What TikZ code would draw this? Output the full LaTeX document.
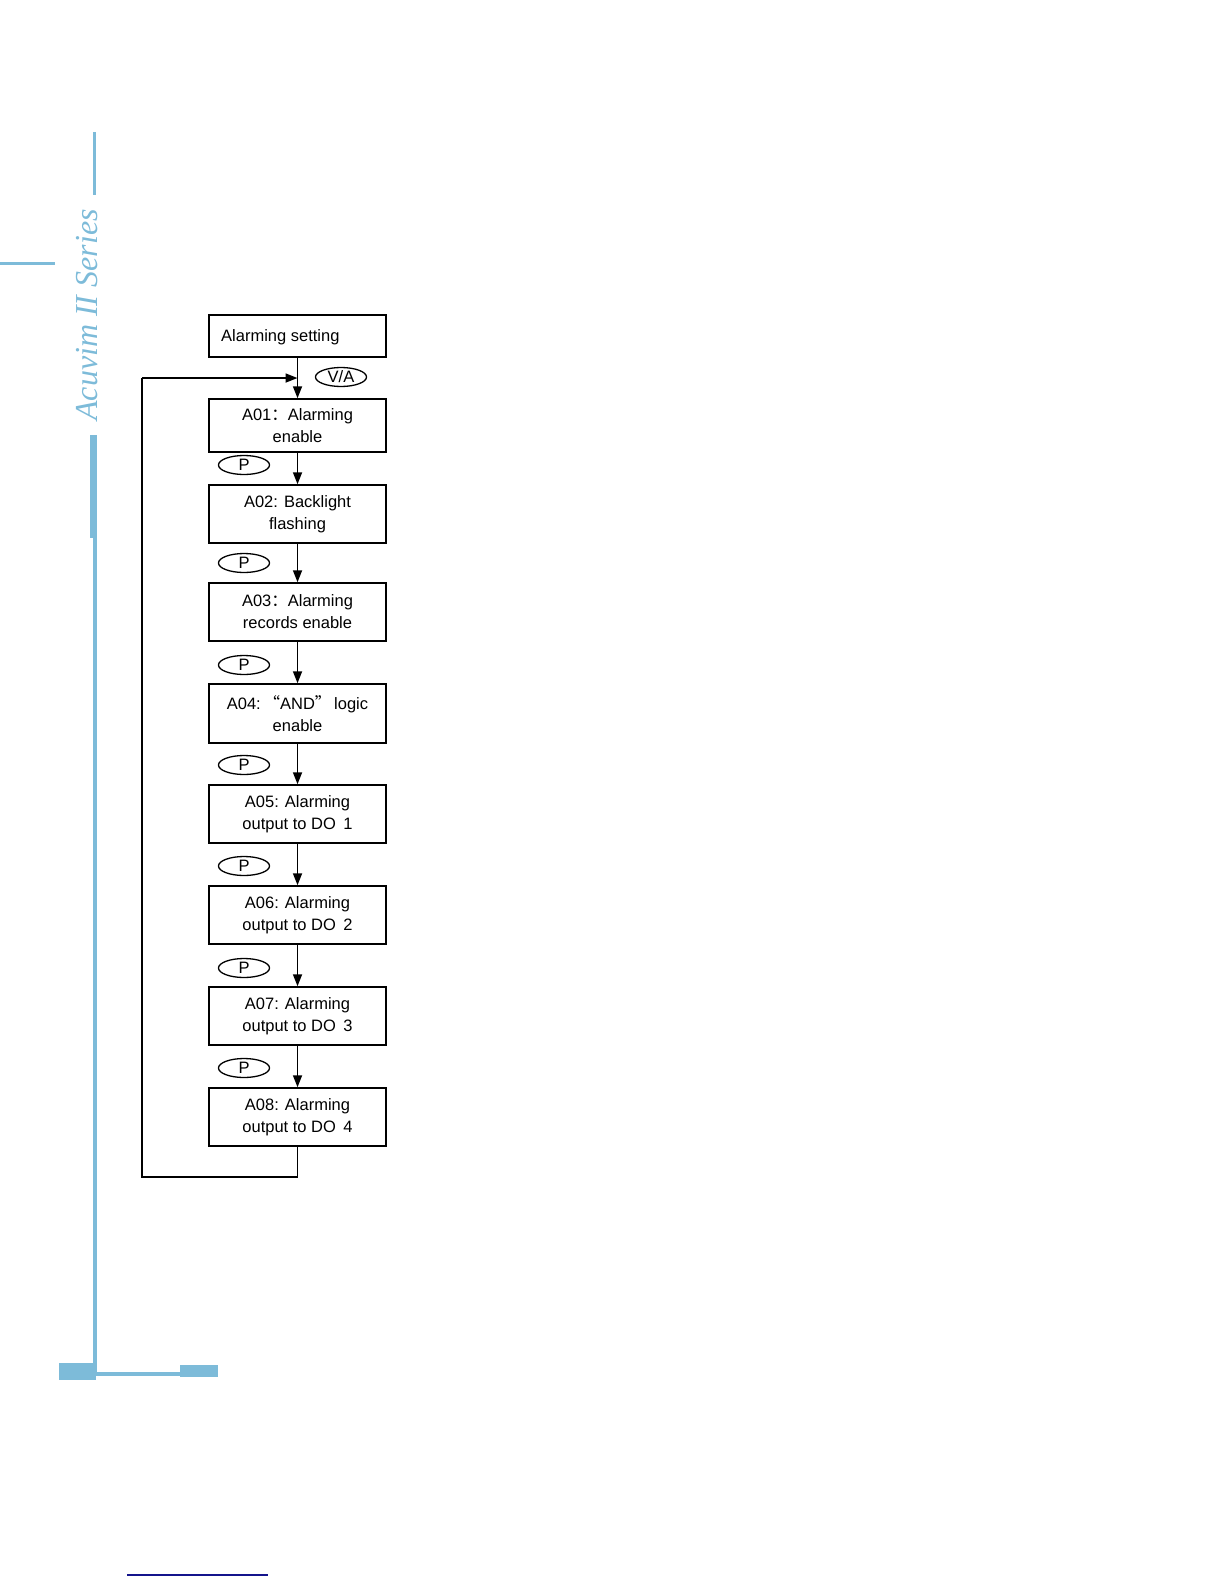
\documentclass[tikz,border=0pt]{standalone}
\usepackage{fontspec}
\setmainfont{Liberation Sans}
\newfontfamily\cjk{Noto Sans CJK SC}
\newfontfamily\brandfont{Liberation Serif}
\usetikzlibrary{arrows.meta,shapes.geometric}
\definecolor{brandblue}{RGB}{125,187,217}
\definecolor{navy}{RGB}{20,20,140}
\tikzset{
  stepbox/.style={draw, line width=1.5pt, minimum width=177pt, minimum height=58pt, inner sep=0pt, align=center, font=\fontsize{16.5}{22}\selectfont},
  keyoval/.style={draw, ellipse, line width=1.3pt, minimum width=51pt, minimum height=19pt, inner sep=0pt, font=\fontsize{16.5}{18}\selectfont},
  flow/.style={line width=1.7pt, -{Triangle[length=12pt,width=9pt]}},
  plain/.style={line width=1.7pt}
}
\begin{document}
\begin{tikzpicture}[x=1pt,y=-1pt]
\useasboundingbox (0,0) rectangle (1224,1584);
% decoration
\fill[brandblue] (92.5,132) rectangle (96,195);
\fill[brandblue] (0,261.5) rectangle (55,265);
\fill[brandblue] (90,435) rectangle (96.5,538);
\fill[brandblue] (93,435) rectangle (96.5,1376);
\fill[brandblue] (59,1363) rectangle (96,1380);
\fill[brandblue] (96,1372) rectangle (180,1376);
\fill[brandblue] (180,1365) rectangle (218,1377);
\node[rotate=90, text=brandblue, font=\brandfont\itshape\fontsize{32}{34}\selectfont] (brand) at (87,315) {Acuvim II Series};
\draw[navy, line width=1.5pt] (127,1575) -- (268,1575);
% boxes
\node[stepbox, minimum height=42pt] (set) at (297.5,336) {};
\node[anchor=west, inner sep=0pt, font=\fontsize{16.5}{22}\selectfont] (settxt) at (221,337) {Alarming setting};
\node[stepbox, minimum height=53pt] (a1) at (297.5,425.5) {A01{\cjk ：}Alarming\\enable};
\node[stepbox] (a2) at (297.5,514) {A02: Backlight\\flashing};
\node[stepbox] (a3) at (297.5,612) {A03{\cjk ：}Alarming\\records enable};
\node[stepbox, minimum height=59pt] (a4) at (297.5,713.5) {A04:\,{\cjk “}AND{\cjk ”}\,logic\\enable};
\node[stepbox] (a5) at (297.5,814) {A05: Alarming\\output to DO\hspace{0.45em}1};
\node[stepbox] (a6) at (297.5,915) {A06: Alarming\\output to DO\hspace{0.45em}2};
\node[stepbox] (a7) at (297.5,1016) {A07: Alarming\\output to DO\hspace{0.45em}3};
\node[stepbox] (a8) at (297.5,1117) {A08: Alarming\\output to DO\hspace{0.45em}4};
% keys
\node[keyoval] (va) at (341,377) {V/A};
\node[keyoval] (p1) at (244,465) {P};
\node[keyoval] (p2) at (244,563) {P};
\node[keyoval] (p3) at (244,665) {P};
\node[keyoval] (p4) at (244,765) {P};
\node[keyoval] (p5) at (244,866) {P};
\node[keyoval] (p6) at (244,968) {P};
\node[keyoval] (p7) at (244,1068) {P};
% connectors
\draw[flow] (set.south) -- (a1.north);
\draw[flow] (a1.south) -- (a2.north);
\draw[flow] (a2.south) -- (a3.north);
\draw[flow] (a3.south) -- (a4.north);
\draw[flow] (a4.south) -- (a5.north);
\draw[flow] (a5.south) -- (a6.north);
\draw[flow] (a6.south) -- (a7.north);
\draw[flow] (a7.south) -- (a8.north);
\coordinate (loopin) at (297.5,378);
\draw[plain] (a8.south) -- (297.5,1177) -- (142,1177) -- (142,378) coordinate (loopcorner);
\draw[flow] (loopcorner) -- (loopin);
\end{tikzpicture}
\end{document}
